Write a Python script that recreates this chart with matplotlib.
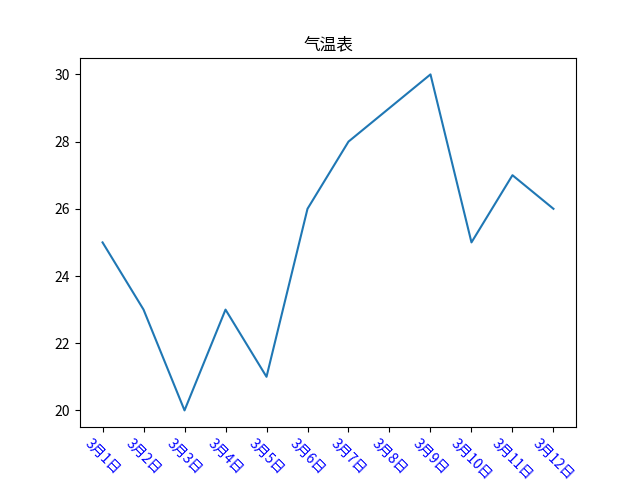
import matplotlib.pyplot as plt

plt.rcParams['font.family'] = ['Noto Sans CJK SC', 'DejaVu Sans']
plt.rcParams['axes.unicode_minus'] = False

dias = ['3月%d日' % i for i in range(1, 13)]
temperaturas = [25, 23, 20, 23, 21, 26, 28, 29, 30, 25, 27, 26]

fig, ax = plt.subplots(figsize=(6.4, 4.8), dpi=100)
ax.plot(range(len(dias)), temperaturas)
ax.set_title('气温表')
ax.set_xticks(range(len(dias)))
ax.set_xticklabels(dias, rotation=-45, color='blue')
fig.savefig('out.png')
